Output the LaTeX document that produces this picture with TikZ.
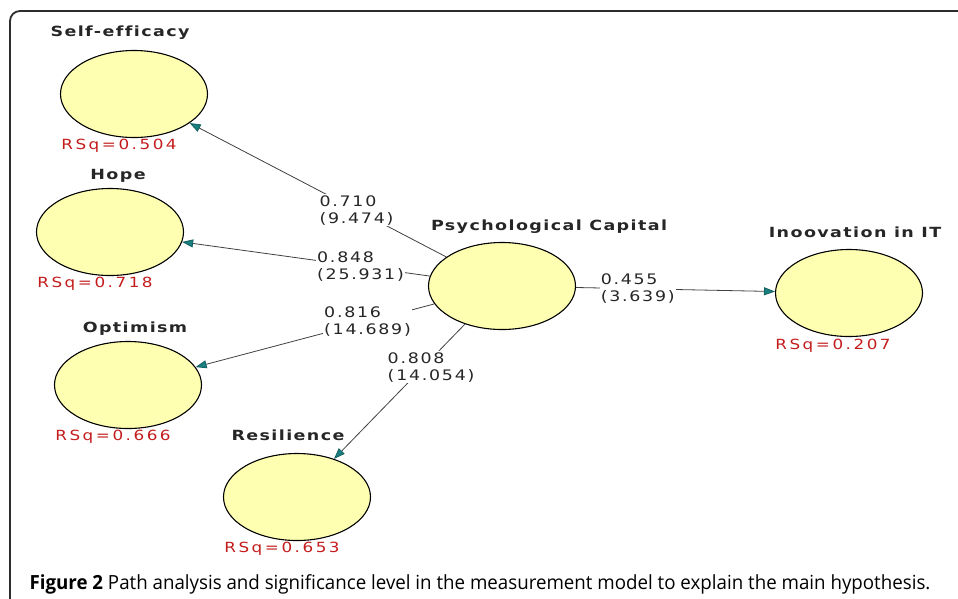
\documentclass[tikz,border=0pt]{standalone}
\usepackage{fontspec}
\setmainfont{DejaVu Sans}
\newfontfamily\lvfont[FakeStretch=1.25,LetterSpace=10,Ligatures={NoCommon}]{DejaVu Sans}
\newfontfamily\rsqfont[FakeStretch=1.2,LetterSpace=18,Ligatures={NoCommon}]{DejaVu Sans}
\newfontfamily\coeffont[FakeStretch=1.2,LetterSpace=12]{DejaVu Sans}
\newfontfamily\capfont[FakeStretch=0.96]{Open Sans}
\usepackage{xcolor}
\usetikzlibrary{arrows.meta,positioning,calc,shapes.geometric}

\definecolor{lvfill}{RGB}{255,255,178}
\definecolor{tipteal}{RGB}{25,128,128}
\definecolor{rsqred}{RGB}{196,28,28}
\definecolor{framegray}{RGB}{45,45,45}

\begin{document}
\begin{tikzpicture}[x=1pt,y=-1pt,
    effect/.style={draw=black!75,line width=0.8pt,
      -{Triangle[length=11pt,width=8pt,fill=tipteal,color=tipteal!75!black]}},
    latent/.style={ellipse,draw=black,line width=1.1pt,fill=lvfill,
      minimum width=147pt,minimum height=87pt,inner sep=0pt},
    lvname/.style={font=\lvfont\bfseries\fontsize{14}{16}\selectfont,text=black!85},
    rsq/.style={font=\rsqfont\fontsize{14}{16}\selectfont,text=rsqred},
    coef/.style={fill=white,align=left,inner sep=1pt,
      font=\coeffont\fontsize{14.5}{17}\selectfont,text=black!85}
  ]
    \useasboundingbox (0,0) rectangle (958,598);
    \draw[framegray,line width=1.8pt,rounded corners=10pt] (10,640) -- (10,11) -- (990,11);

    % latent variables
    \node[latent] (pc) at (502,286) {};
    \node[latent] (se) at (134,94) {};
    \node[latent] (hope) at (110,232) {};
    \node[latent] (opt) at (128,385) {};
    \node[latent] (res) at (297,497) {};
    \node[latent] (inno) at (849,293) {};

    % names
    \node[lvname] (pcname) at (549,227) {Psychological Capital};
    \node[lvname] (sename) at (120,33) {Self-efficacy};
    \node[lvname] (hopename) at (118,176) {Hope};
    \node[lvname] (optname) at (135,329) {Optimism};
    \node[lvname] (resname) at (288,435) {Resilience};
    \node[lvname] (innoname) at (855,232) {Inoovation in IT};

    % R squared
    \node[rsq] (serq) at (119,146) {RSq=0.504};
    \node[rsq] (hoperq) at (95,284) {RSq=0.718};
    \node[rsq] (optrq) at (113,437) {RSq=0.666};
    \node[rsq] (resrq) at (282,549) {RSq=0.653};
    \node[rsq] (innorq) at (833,346) {RSq=0.207};

    % paths
    \draw[effect] (pc) -- node[coef,pos=0.35] (c1) {0.710\\(9.474)} (se);
    \draw[effect] (pc) -- node[coef,pos=0.28] (c2) {0.848\\(25.931)} (hope);
    \draw[effect] (pc) -- node[coef,pos=0.28] (c3) {0.816\\(14.689)} (opt);
    \draw[effect] (pc) -- node[coef,pos=0.32,xshift=8pt] (c4) {0.808\\(14.054)} (res);
    \draw[effect] (pc) -- node[coef,pos=0.31] (c5) {0.455\\(3.639)} (inno);

    \node[anchor=base west,font=\capfont\fontsize{19.5}{23}\selectfont] (cap) at (26,589)
      {\textbf{Figure 2} Path analysis and significance level in the measurement model to explain the main hypothesis.};
\end{tikzpicture}
\end{document}
